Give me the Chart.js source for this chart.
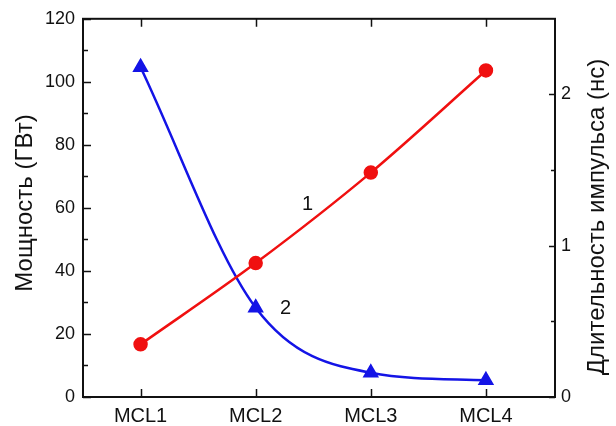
<!DOCTYPE html>
<html>
<head>
<meta charset="utf-8">
<script src="https://cdn.jsdelivr.net/npm/chart.js@4.4.1/dist/chart.umd.min.js"></script>
<style>
  html, body { margin: 0; padding: 0; background: #fff; }
  canvas { display: block; }
</style>
</head>
<body>
<canvas id="chart" width="616" height="426"></canvas>
<script>
// Data
const categories = ["MCL1", "MCL2", "MCL3", "MCL4"];
const xPositions = [1, 2, 3, 4];
const powerGW = [16.7, 42.5, 71.2, 103.6];     // curve 1, left axis
const durationNs = [2.18, 0.59, 0.16, 0.11];   // curve 2, right axis
const leftTicks = [0, 20, 40, 60, 80, 100, 120];
const leftMinor = [10, 30, 50, 70, 90, 110];
const rightTicks = [0, 1, 2];
const rightMinor = [0.5, 1.5];
const curveLabels = [
  { text: "1", x: 2.45, y: 61 },
  { text: "2", x: 2.26, y: 28 }
];

const FONT = "'Liberation Sans', Arial, sans-serif";

// frame, inward ticks, axis titles and curve numbers
const framePlugin = {
  id: "frame",
  afterDatasetsDraw(chart) {
    const { ctx, chartArea: a, scales } = chart;
    const x = scales.x, y = scales.y, y1 = scales.y1;
    ctx.save();
    ctx.strokeStyle = "#111";
    ctx.lineWidth = 2;
    ctx.strokeRect(a.left, a.top, a.right - a.left, a.bottom - a.top);

    ctx.lineWidth = 1.5;
    ctx.beginPath();
    xPositions.forEach(v => {
      const px = Math.round(x.getPixelForValue(v)) + 0.5;
      ctx.moveTo(px, a.bottom); ctx.lineTo(px, a.bottom - 8);
      ctx.moveTo(px, a.top); ctx.lineTo(px, a.top + 8);
    });
    leftTicks.forEach(v => {
      const py = Math.round(y.getPixelForValue(v)) + 0.5;
      ctx.moveTo(a.left, py); ctx.lineTo(a.left + 8, py);
    });
    leftMinor.forEach(v => {
      const py = Math.round(y.getPixelForValue(v)) + 0.5;
      ctx.moveTo(a.left, py); ctx.lineTo(a.left + 5, py);
    });
    rightTicks.forEach(v => {
      const py = Math.round(y1.getPixelForValue(v)) + 0.5;
      ctx.moveTo(a.right, py); ctx.lineTo(a.right - 6, py);
    });
    rightMinor.forEach(v => {
      const py = Math.round(y1.getPixelForValue(v)) + 0.5;
      ctx.moveTo(a.right, py); ctx.lineTo(a.right - 4, py);
    });
    ctx.stroke();

    ctx.fillStyle = "#111";
    ctx.font = "20px " + FONT;
    ctx.textAlign = "center";
    ctx.textBaseline = "middle";
    curveLabels.forEach(l => {
      ctx.fillText(l.text, x.getPixelForValue(l.x), y.getPixelForValue(l.y));
    });

    ctx.font = "24px " + FONT;
    ctx.save();
    ctx.translate(25, 203);
    ctx.rotate(-Math.PI / 2);
    ctx.fillText("Мощность (ГВт)", 0, 0);
    ctx.restore();
    ctx.save();
    ctx.translate(597, 217);
    ctx.rotate(-Math.PI / 2);
    ctx.fillText("Длительность импульса (нс)", 0, 0);
    ctx.restore();
    ctx.restore();
  }
};

new Chart(document.getElementById("chart"), {
  type: "line",
  data: {
    datasets: [
      {
        label: "1",
        data: xPositions.map((v, i) => ({ x: v, y: powerGW[i] })),
        yAxisID: "y",
        borderColor: "#f01010",
        backgroundColor: "#f01010",
        borderWidth: 2.5,
        pointRadius: 6,
        pointStyle: "circle",
        cubicInterpolationMode: "monotone"
      },
      {
        label: "2",
        data: xPositions.map((v, i) => ({ x: v, y: durationNs[i] })),
        yAxisID: "y1",
        borderColor: "#1414e6",
        backgroundColor: "#1414e6",
        borderWidth: 2.5,
        pointRadius: 7,
        pointStyle: "triangle",
        cubicInterpolationMode: "monotone"
      }
    ]
  },
  options: {
    responsive: false,
    animation: false,
    devicePixelRatio: 1,
    layout: { padding: { top: 16, left: 0, right: 0, bottom: 0 } },
    plugins: { legend: { display: false }, tooltip: { enabled: false } },
    scales: {
      x: {
        type: "linear",
        min: 0.5,
        max: 4.6,
        afterBuildTicks: s => { s.ticks = xPositions.map(v => ({ value: v })); },
        afterFit: s => { s.height = 29; },
        grid: { display: false, drawTicks: false },
        border: { display: false },
        ticks: {
          padding: 7,
          color: "#111",
          font: { family: FONT, size: 20 },
          callback: v => categories[xPositions.indexOf(v)]
        }
      },
      y: {
        position: "left",
        min: 0,
        max: 120,
        afterBuildTicks: s => { s.ticks = leftTicks.map(v => ({ value: v })); },
        afterFit: s => { s.width = 83; },
        grid: { display: false, drawTicks: false },
        border: { display: false },
        ticks: { padding: 8, color: "#111", font: { family: FONT, size: 18 } }
      },
      y1: {
        position: "right",
        min: 0,
        max: 2.5,
        afterBuildTicks: s => { s.ticks = rightTicks.map(v => ({ value: v })); },
        afterFit: s => { s.width = 61; },
        grid: { display: false, drawTicks: false },
        border: { display: false },
        ticks: { padding: 6, color: "#111", font: { family: FONT, size: 18 } }
      }
    }
  },
  plugins: [framePlugin]
});
</script>
</body>
</html>
